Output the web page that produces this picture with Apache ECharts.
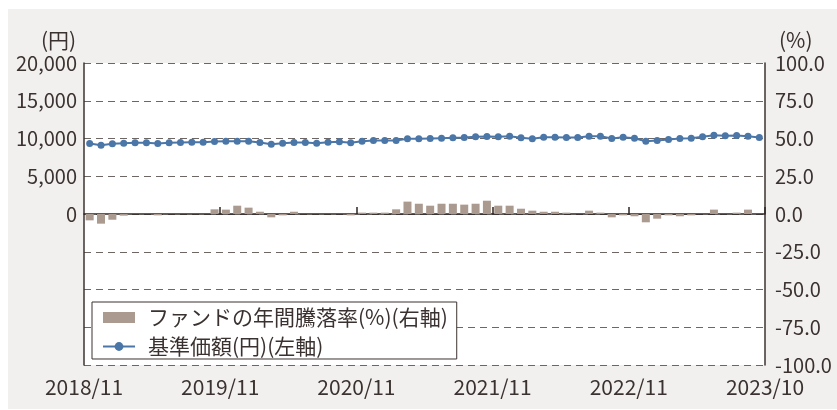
<!DOCTYPE html>
<html>
<head>
<meta charset="utf-8">
<script src="https://cdn.jsdelivr.net/npm/echarts@6/dist/echarts.min.js"></script>
<style>
html,body{margin:0;padding:0;background:#fff;}
#chart{width:837px;height:410px;}
</style>
</head>
<body>
<div id="chart"></div>
<script>
var months = [
'2018/11','2018/12','2019/01','2019/02','2019/03','2019/04','2019/05','2019/06','2019/07','2019/08','2019/09','2019/10',
'2019/11','2019/12','2020/01','2020/02','2020/03','2020/04','2020/05','2020/06','2020/07','2020/08','2020/09','2020/10',
'2020/11','2020/12','2021/01','2021/02','2021/03','2021/04','2021/05','2021/06','2021/07','2021/08','2021/09','2021/10',
'2021/11','2021/12','2022/01','2022/02','2022/03','2022/04','2022/05','2022/06','2022/07','2022/08','2022/09','2022/10',
'2022/11','2022/12','2023/01','2023/02','2023/03','2023/04','2023/05','2023/06','2023/07','2023/08','2023/09','2023/10'
];
var navValues = [
9337,9117,9293,9382,9426,9426,9337,9426,9470,9514,9514,9602,
9646,9646,9646,9470,9249,9382,9470,9470,9382,9514,9558,9426,
9646,9735,9735,9735,9956,9956,10000,10044,10088,10133,10221,10265,
10221,10309,10088,9956,10177,10177,10133,10133,10309,10309,10000,10177,
10044,9646,9735,9868,10000,10044,10221,10442,10354,10398,10309,10133
];
var returnValues = [
-4.2,-6.4,-3.8,-1.1,0,0,-0.9,0,0,0,0,3.1,
2.9,5.5,4.2,1.5,-2.2,-0.9,1.5,0,0,0,0,-0.9,
0.9,0.9,0.9,3.1,8.2,6.8,5.5,6.8,6.8,6.2,6.8,8.8,
5.5,5.5,3.5,2.2,1.5,1.5,0.9,0,2.2,0.9,-2.2,-0.9,
-1.5,-5.5,-3.1,-0.9,-1.5,-0.9,0,2.9,0,0.9,2.9,0
];
var xTickLabels = ['2018/11','2019/11','2020/11','2021/11','2022/11','2023/10'];
var seriesNames = ['ファンドの年間騰落率(%)(右軸)','基準価額(円)(左軸)'];

var FONT = 'Noto Sans CJK JP';
var TXT = '#3a3230';
var chart = echarts.init(document.getElementById('chart'), null, {renderer:'canvas'});
chart.setOption({
  backgroundColor:'#ffffff',
  animation:false,
  textStyle:{fontFamily:FONT,color:TXT},
  graphic:[
    {type:'rect',z:-100,shape:{x:8,y:9,width:829,height:400},style:{fill:'#f2f0ee'},silent:true},
    {type:'text',left:41,top:30,style:{text:'(円)',font:'21px "Noto Sans CJK JP"',fill:TXT}},
    {type:'text',left:779,top:30,style:{text:'(%)',font:'21px "Noto Sans CJK JP"',fill:TXT}}
  ],
  grid:{left:84,right:72,top:63,bottom:45,show:true,backgroundColor:'#ffffff',borderWidth:0,containLabel:false},
  legend:{
    orient:'vertical',left:92,top:302,
    backgroundColor:'#ffffff',borderColor:'#3b3330',borderWidth:1,borderRadius:0,
    padding:[5,9,2,10],itemGap:8,itemWidth:32,itemHeight:11,
    textStyle:{fontFamily:FONT,fontSize:21,color:TXT,padding:[0,0,0,8]},
    data:[{name:seriesNames[0],icon:'rect'},{name:seriesNames[1]}]
  },
  xAxis:[
    {type:'category',data:months,boundaryGap:true,
     axisLine:{show:true,onZero:true,lineStyle:{color:'#2e2624',width:1.5}},
     axisTick:{show:true,inside:true,length:7,interval:function(i){return i>0 && i%12===0;},lineStyle:{color:'#2e2624',width:1.5}},
     axisLabel:{show:false},splitLine:{show:false}},
    {type:'value',min:0,max:60,interval:12,position:'bottom',
     axisLine:{show:false,onZero:false},axisTick:{show:false},splitLine:{show:false},
     axisLabel:{show:true,margin:12,fontFamily:FONT,fontSize:21,color:TXT,showMinLabel:true,showMaxLabel:true,
       formatter:function(v){return xTickLabels[Math.round(v/12)];}}}
  ],
  yAxis:[
    {type:'value',min:-20000,max:20000,interval:5000,
     axisLine:{show:true,lineStyle:{color:'#3b3330',width:1.5}},
     axisTick:{show:false},
     axisLabel:{margin:7,fontFamily:FONT,fontSize:20,color:TXT,
       formatter:function(v){return v>=0 ? v.toLocaleString('en-US') : '';}},
     splitLine:{show:true,lineStyle:{color:'#6e6662',width:1.2,type:[7,5]}}},
    {type:'value',min:-100,max:100,interval:25,position:'right',
     axisLine:{show:true,lineStyle:{color:'#3b3330',width:1.5}},
     axisTick:{show:false},
     axisLabel:{margin:10,fontFamily:FONT,fontSize:20,color:TXT,formatter:function(v){return v.toFixed(1);}},
     splitLine:{show:false}}
  ],
  series:[
    {name:seriesNames[0],type:'bar',xAxisIndex:0,yAxisIndex:1,data:returnValues,barWidth:8,
     itemStyle:{color:'#ab9a8f'},z:2},
    {name:seriesNames[1],type:'line',xAxisIndex:0,yAxisIndex:0,data:navValues,
     symbol:'circle',symbolSize:7,showSymbol:true,
     lineStyle:{color:'#4a76a8',width:2},itemStyle:{color:'#4a76a8'},z:3}
  ]
});
</script>
</body>
</html>
